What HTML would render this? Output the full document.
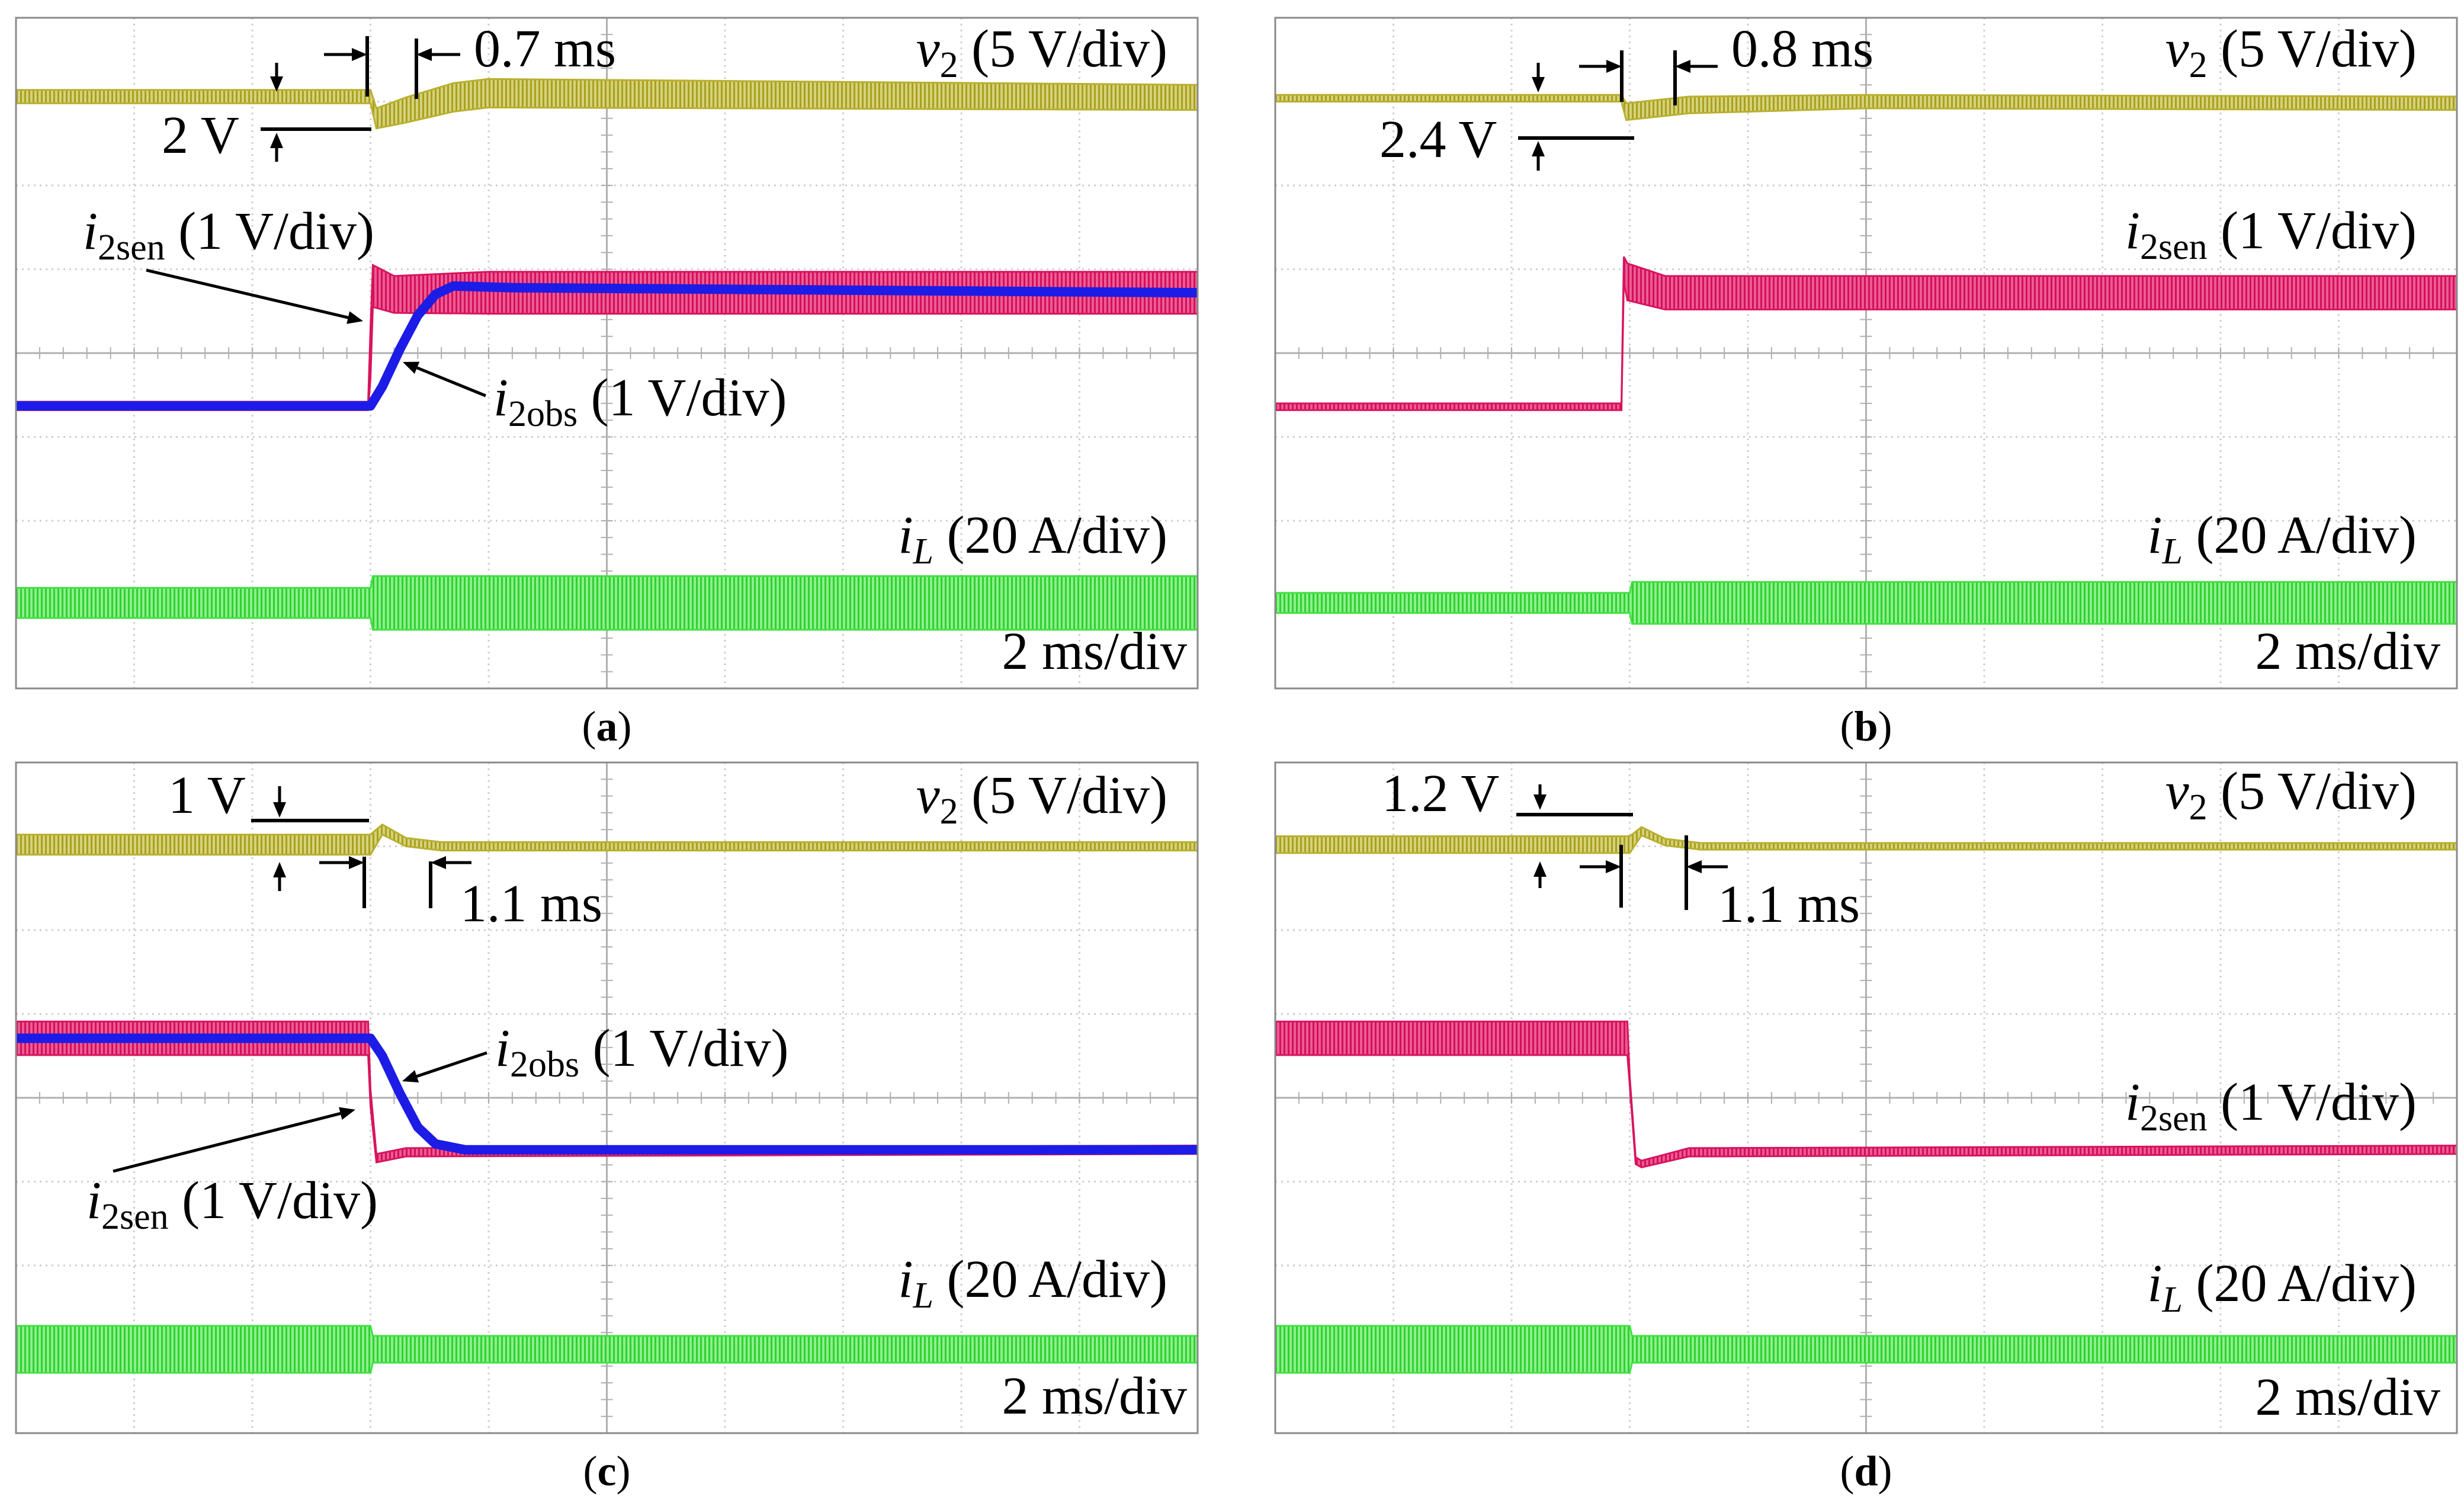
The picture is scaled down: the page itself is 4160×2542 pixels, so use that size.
<!DOCTYPE html>
<html><head><meta charset="utf-8"><style>
html,body{margin:0;padding:0;background:#fff}
svg{display:block}
text{font-family:"Liberation Serif",serif;fill:#000}
</style></head>
<body>
<svg id="fig" width="4160" height="2542" viewBox="0 0 4160 2542" xmlns="http://www.w3.org/2000/svg">
<defs>
<pattern id="pv2" width="7" height="10" patternUnits="userSpaceOnUse"><rect width="7" height="10" fill="#d6d27a"/><rect width="3" height="10" fill="#a8a020"/></pattern>
<pattern id="psen" width="7" height="10" patternUnits="userSpaceOnUse"><rect width="7" height="10" fill="#ec5c96"/><rect width="3" height="10" fill="#d40f58"/></pattern>
<pattern id="pil" width="7" height="10" patternUnits="userSpaceOnUse"><rect width="7" height="10" fill="#8cf08c"/><rect width="3" height="10" fill="#30d030"/></pattern>
</defs>
</svg>
<script>
// ---------- data (time in div, value in div from top) ----------
const aV2T=[0,3.0,3.05,3.3,3.7,4.0,10];
const aV2V=[0.94,0.94,1.2,1.1,0.95,0.9,0.95];
const aV2A=[0.08,0.08,0.12,0.15,0.17,0.17,0.15];
const aSenT=[0,2.98,3.0,3.02,3.2,4.0,10];
const aSenV=[4.63,4.63,4.0,3.2,3.3,3.28,3.28];
const aSenA=[0.05,0.05,0.3,0.25,0.22,0.25,0.25];
const aObsT=[0,3.0,3.1,3.25,3.4,3.55,3.7,4.2,10];
const aObsV=[4.63,4.63,4.4,3.95,3.55,3.3,3.2,3.22,3.28];
const aILT=[0,3.0,3.02,10];
const aILV=[6.98,6.98,6.98,6.98];
const aILA=[0.18,0.18,0.32,0.32];

const bV2T=[0,2.93,2.97,3.5,5,10];
const bV2V=[0.96,0.96,1.12,1.04,1.0,1.02];
const bV2A=[0.04,0.04,0.1,0.1,0.08,0.08];
const bSenT=[0,2.93,2.95,2.98,3.3,10];
const bSenV=[4.64,4.64,3.0,3.15,3.28,3.28];
const bSenA=[0.04,0.04,0.15,0.22,0.2,0.2];
const bILT=[0,3.0,3.02,10];
const bILV=[6.98,6.98,6.98,6.98];
const bILA=[0.12,0.12,0.25,0.25];

const cV2T=[0,3.0,3.1,3.3,3.6,10];
const cV2V=[0.98,0.98,0.8,0.95,1.0,1.0];
const cV2A=[0.12,0.12,0.06,0.05,0.05,0.05];
const cSenT=[0,2.98,3.0,3.05,3.3,10];
const cSenV=[3.29,3.29,4.0,4.72,4.65,4.62];
const cSenA=[0.2,0.2,0.1,0.05,0.05,0.05];
const cObsT=[0,3.0,3.1,3.25,3.4,3.55,3.8,10];
const cObsV=[3.29,3.29,3.5,3.95,4.35,4.55,4.62,4.62];
const cILT=[0,3.0,3.02,10];
const cILV=[7.0,7.0,7.0,7.0];
const cILA=[0.28,0.28,0.16,0.16];

const dV2T=[0,3.0,3.1,3.3,3.6,10];
const dV2V=[0.98,0.98,0.82,0.95,1.0,1.0];
const dV2A=[0.1,0.1,0.05,0.04,0.04,0.04];
const dSenT=[0,2.98,3.0,3.05,3.1,3.5,10];
const dSenV=[3.29,3.29,3.8,4.75,4.79,4.65,4.62];
const dSenA=[0.2,0.2,0.05,0.04,0.04,0.05,0.05];
const dILT=[0,3.0,3.02,10];
const dILV=[7.0,7.0,7.0,7.0];
const dILA=[0.28,0.28,0.16,0.16];

// ---------- layout ----------
const NS="http://www.w3.org/2000/svg";
const svg=document.getElementById('fig');
const W=1995,H=1132,DX=W/10,DY=H/8;
const xs=t=>t*DX, ys=v=>v*DY;
function mk(tag,attrs,parent){const e=document.createElementNS(NS,tag);for(const k in attrs)e.setAttribute(k,attrs[k]);parent.appendChild(e);return e;}

function grid(g){
  for(let i=1;i<10;i++){
    const l=mk('line',{x1:xs(i),y1:0,x2:xs(i),y2:H,stroke:i==5?'#b0b0b0':'#cfcfcf','stroke-width':3,'stroke-dasharray':i==5?'none':'3 7'},g);
    
    
  }
  for(let j=1;j<8;j++){
    const l=mk('line',{x1:0,y1:ys(j),x2:W,y2:ys(j),stroke:j==4?'#b0b0b0':'#cfcfcf','stroke-width':3,'stroke-dasharray':j==4?'none':'3 7'},g);
    
    
  }
  for(let k=1;k<50;k++){
    const t=mk('line',{x1:xs(k/5),y1:ys(4)-10,x2:xs(k/5),y2:ys(4)+10,stroke:'#b0b0b0','stroke-width':2},g);
    
    
  }
  for(let k=1;k<40;k++){
    const t=mk('line',{x1:xs(5)-10,y1:ys(k/5),x2:xs(5)+10,y2:ys(k/5),stroke:'#b0b0b0','stroke-width':2},g);
    
    
  }
}
function band(g,T,V,A,fill,edge,name){
  const up=T.map((t,i)=>xs(t)+','+ys(V[i]-A[i]));
  const lo=T.map((t,i)=>xs(t)+','+ys(V[i]+A[i])).reverse();
  const p=mk('polygon',{points:up.concat(lo).join(' '),fill:fill,stroke:edge,'stroke-width':3},g);
  
  
}
function line(g,T,V,color,w,name){
  const p=mk('polyline',{points:T.map((t,i)=>xs(t)+','+ys(V[i])).join(' '),fill:'none',stroke:color,'stroke-width':w,'stroke-linejoin':'round'},g);
  
  
}
function txt(g,x,y,html,anchor,name,size){
  const t=mk('text',{x:x,y:y,'font-size':size||90,'text-anchor':anchor||'start'},g);
  t.innerHTML=html;
  
  
  return t;
}
function seg(g,x1,y1,x2,y2,name){
  const l=mk('line',{x1:x1,y1:y1,x2:x2,y2:y2,stroke:'#000','stroke-width':6},g);
  
  
}
function arrow(g,x1,y1,x2,y2,name){
  const a=Math.atan2(y2-y1,x2-x1),L=26,w=11;
  const bx=x2-L*Math.cos(a),by=y2-L*Math.sin(a);
  const l=mk('line',{x1:x1,y1:y1,x2:bx,y2:by,stroke:'#000','stroke-width':5},g);
  
  
  const p=mk('polygon',{points:`${x2},${y2} ${bx-w*Math.sin(a)},${by+w*Math.cos(a)} ${bx+w*Math.sin(a)},${by-w*Math.cos(a)}`,fill:'#000'},g);
  
  
}
const V2='<tspan font-style="italic">v</tspan><tspan font-size="62" dy="18">2</tspan><tspan dy="-18"> (5 V/div)</tspan>';
const SEN='<tspan font-style="italic">i</tspan><tspan font-size="62" dy="18">2sen</tspan><tspan dy="-18"> (1 V/div)</tspan>';
const OBS='<tspan font-style="italic">i</tspan><tspan font-size="62" dy="18">2obs</tspan><tspan dy="-18"> (1 V/div)</tspan>';
const IL='<tspan font-style="italic">i</tspan><tspan font-size="62" font-style="italic" dy="18">L</tspan><tspan dy="-18"> (20 A/div)</tspan>';

function panel(id,ox,oy,d){
  const g=mk('g',{transform:`translate(${ox},${oy})`},svg);
  
  
  grid(g);
  band(g,d.v2T,d.v2V,d.v2A,'url(#pv2)','#b8b030','trace-v2');
  band(g,d.senT,d.senV,d.senA,'url(#psen)','#d8145e','trace-i2sen');
  if(d.obsT) line(g,d.obsT,d.obsV,'#1c1ce6',16,'trace-i2obs');
  band(g,d.ilT,d.ilV,d.ilA,'url(#pil)','#44e044','trace-iL');
  const f=mk('rect',{x:0,y:0,width:W,height:H,fill:'none',stroke:'#8a8a8a','stroke-width':3},g);
  
  
  d.ann(g);
  txt(g,W/2,H+88,'(<tspan font-weight="bold">'+id+'</tspan>)','middle','caption-'+id,72);
}

panel('a',27,30,{v2T:aV2T,v2V:aV2V,v2A:aV2A,senT:aSenT,senV:aSenV,senA:aSenA,obsT:aObsT,obsV:aObsV,ilT:aILT,ilV:aILV,ilA:aILA,ann:g=>{
  seg(g,593,31,593,133,'marker-line');seg(g,676,35,676,137,'marker-line');
  arrow(g,520,62,593,62,'time-arrow');arrow(g,750,62,676,62,'time-arrow');
  txt(g,773,82,'0.7 ms','start','delay-label');
  seg(g,413,188,600,188,'level-line');
  arrow(g,440,76,440,125,'volt-arrow');arrow(g,440,243,440,194,'volt-arrow');
  txt(g,246,228,'2 V','start','voltage-drop-label');
  txt(g,1944,82,V2,'end','v2-label');
  txt(g,113,390,SEN,'start','i2sen-label');arrow(g,220,426,586,512,'i2sen-pointer');
  txt(g,806,671,OBS,'start','i2obs-label');arrow(g,793,638,653,581,'i2obs-pointer');
  txt(g,1944,903,IL,'end','iL-label');
  txt(g,1977,1099,'2 ms/div','end','timebase-label');
}});

panel('b',2153,30,{v2T:bV2T,v2V:bV2V,v2A:bV2A,senT:bSenT,senV:bSenV,senA:bSenA,ilT:bILT,ilV:bILV,ilA:bILA,ann:g=>{
  seg(g,585,55,585,142,'marker-line');seg(g,675,55,675,148,'marker-line');
  arrow(g,513,82,585,82,'time-arrow');arrow(g,747,82,675,82,'time-arrow');
  txt(g,770,82,'0.8 ms','start','delay-label');
  seg(g,410,203,606,203,'level-line');
  arrow(g,444,76,444,126,'volt-arrow');arrow(g,444,258,444,208,'volt-arrow');
  txt(g,176,235,'2.4 V','start','voltage-drop-label');
  txt(g,1927,82,V2,'end','v2-label');
  txt(g,1927,389,SEN,'end','i2sen-label');
  txt(g,1927,903,IL,'end','iL-label');
  txt(g,1967,1099,'2 ms/div','end','timebase-label');
}});

panel('c',27,1287,{v2T:cV2T,v2V:cV2V,v2A:cV2A,senT:cSenT,senV:cSenV,senA:cSenA,obsT:cObsT,obsV:cObsV,ilT:cILT,ilV:cILV,ilA:cILA,ann:g=>{
  seg(g,397,98,596,98,'level-line');
  arrow(g,445,40,445,93,'volt-arrow');arrow(g,445,217,445,168,'volt-arrow');
  txt(g,257,85,'1 V','start','voltage-rise-label');
  seg(g,588,159,588,246,'marker-line');seg(g,700,167,700,246,'marker-line');
  arrow(g,512,169,588,169,'time-arrow');arrow(g,769,169,700,169,'time-arrow');
  txt(g,750,268,'1.1 ms','start','recovery-label');
  txt(g,1944,85,V2,'end','v2-label');
  txt(g,809,512,OBS,'start','i2obs-label');arrow(g,795,490,652,538,'i2obs-pointer');
  txt(g,119,769,SEN,'start','i2sen-label');arrow(g,164,690,573,586,'i2sen-pointer');
  txt(g,1944,902,IL,'end','iL-label');
  txt(g,1977,1099,'2 ms/div','end','timebase-label');
}});

panel('d',2153,1287,{v2T:dV2T,v2V:dV2V,v2A:dV2A,senT:dSenT,senV:dSenV,senA:dSenA,ilT:dILT,ilV:dILV,ilA:dILA,ann:g=>{
  seg(g,407,88,604,88,'level-line');
  arrow(g,447,37,447,80,'volt-arrow');arrow(g,447,212,447,167,'volt-arrow');
  txt(g,180,82,'1.2 V','start','voltage-rise-label');
  seg(g,584,139,584,245,'marker-line');seg(g,694,123,694,249,'marker-line');
  arrow(g,514,176,584,176,'time-arrow');arrow(g,764,176,694,176,'time-arrow');
  txt(g,747,269,'1.1 ms','start','recovery-label');
  txt(g,1927,78,V2,'end','v2-label');
  txt(g,1927,603,SEN,'end','i2sen-label');
  txt(g,1927,909,IL,'end','iL-label');
  txt(g,1967,1101,'2 ms/div','end','timebase-label');
}});
</script>
</body></html>
